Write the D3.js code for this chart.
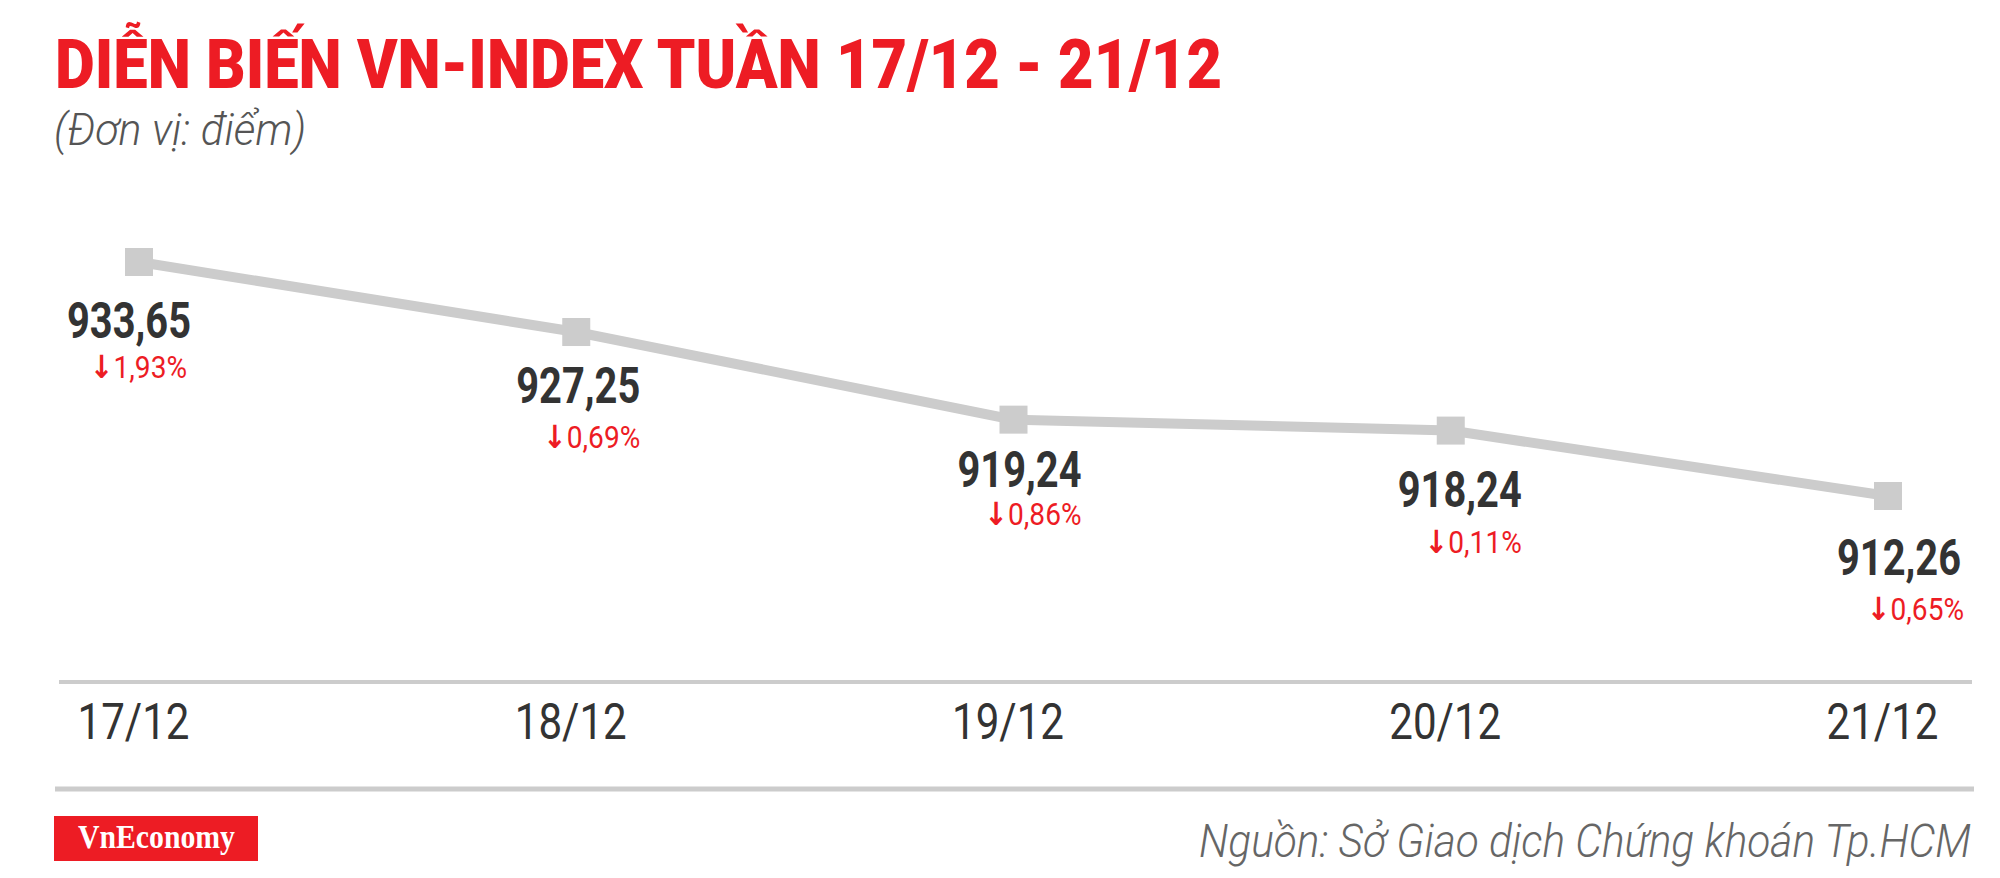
<!DOCTYPE html>
<html>
<head>
<meta charset="utf-8">
<script src="https://cdn.jsdelivr.net/npm/d3@7"></script>
<style>
  html, body { margin: 0; padding: 0; background: #ffffff; }
  svg { display: block; }
</style>
</head>
<body>
<svg id="chart" width="2000" height="878"></svg>
<script>
// ---- data ----
const dates = ["17/12", "18/12", "19/12", "20/12", "21/12"];
const indexValues = [933.65, 927.25, 919.24, 918.24, 912.26];
const pctChanges = [-1.93, -0.69, -0.86, -0.11, -0.65];

const titleText = "DIỄN BIẾN VN-INDEX TUẦN 17/12 - 21/12";
const unitText = "(Đơn vị: điểm)";
const sourceText = "Nguồn: Sở Giao dịch Chứng khoán Tp.HCM";
const brandText = "VnEconomy";

// ---- layout (label nudges relative to each marker) ----
const valueLabelDx = [52, 64, 68, 71, 73];
const valueLabelDy = [76, 71, 67, 76, 79];
const pctLabelDx = [48, 64, 68, 71, 76];
const pctLabelDy = [116, 116, 105, 122, 124];

const RED = "#ed1c24";
const GREY_LINE = "#cccccc";
const DARK = "#333333";

const svg = d3.select("#chart");

const vnLocale = d3.formatLocale({ decimal: ",", thousands: ".", grouping: [3], currency: ["", ""] });
const fmt2 = vnLocale.format(".2f");

// scales
const x = d3.scalePoint().domain(dates).range([139, 1888]);
const y = d3.scaleLinear().domain(d3.extent(indexValues)).range([496, 262]);

const pts = dates.map((d, i) => ({ date: d, v: indexValues[i], p: pctChanges[i], i }));

// ---- title ----
svg.append("text")
  .attr("x", 55).attr("y", 88)
  .attr("font-family", "Roboto, sans-serif")
  .attr("font-weight", 900)
  .attr("font-size", 68)
  .attr("fill", RED)
  .attr("textLength", 1167)
  .attr("lengthAdjust", "spacingAndGlyphs")
  .text(titleText);

svg.append("text")
  .attr("x", 54).attr("y", 145)
  .attr("font-family", "Roboto, sans-serif")
  .attr("font-style", "italic")
  .attr("font-weight", 300)
  .attr("font-size", 45)
  .attr("fill", "#555555")
  .attr("textLength", 252)
  .attr("lengthAdjust", "spacingAndGlyphs")
  .text(unitText);

// ---- line ----
const line = d3.line().x(d => x(d.date)).y(d => y(d.v));
svg.append("path")
  .datum(pts)
  .attr("d", line)
  .attr("fill", "none")
  .attr("stroke", GREY_LINE)
  .attr("stroke-width", 10);

// markers
svg.selectAll("rect.marker")
  .data(pts)
  .join("rect")
  .attr("class", "marker")
  .attr("x", d => x(d.date) - 14)
  .attr("y", d => y(d.v) - 14)
  .attr("width", 28)
  .attr("height", 28)
  .attr("fill", GREY_LINE);

// value labels
svg.selectAll("text.val")
  .data(pts)
  .join("text")
  .attr("class", "val")
  .attr("x", d => x(d.date) + valueLabelDx[d.i] - 124)
  .attr("y", d => y(d.v) + valueLabelDy[d.i])
  .attr("font-family", "Roboto, sans-serif")
  .attr("font-weight", 700)
  .attr("font-size", 50)
  .attr("fill", DARK)
  .attr("textLength", 124)
  .attr("lengthAdjust", "spacingAndGlyphs")
  .text(d => fmt2(d.v));

// percentage labels
const pctText = svg.selectAll("text.pct")
  .data(pts)
  .join("text")
  .attr("class", "pct")
  .attr("x", d => x(d.date) + pctLabelDx[d.i] - 97)
  .attr("y", d => y(d.v) + pctLabelDy[d.i])
  .attr("font-family", "Roboto, sans-serif")
  .attr("font-weight", 400)
  .attr("font-size", 32)
  .attr("fill", RED)
  .attr("textLength", 97)
  .attr("lengthAdjust", "spacingAndGlyphs");
pctText.append("tspan")
  .attr("font-family", "'DejaVu Sans', sans-serif")
  .attr("font-weight", 700)
  .text(d => (d.p < 0 ? "↓" : "↑"));
pctText.append("tspan")
  .text(d => fmt2(Math.abs(d.p)) + "%");

// ---- axis ----
svg.append("line")
  .attr("x1", 59).attr("x2", 1972)
  .attr("y1", 682).attr("y2", 682)
  .attr("stroke", GREY_LINE).attr("stroke-width", 4);

const axisG = svg.append("g")
  .attr("transform", "translate(-6,682)")
  .call(d3.axisBottom(x).tickSize(0).tickPadding(21));
axisG.select(".domain").remove();
axisG.selectAll("text")
  .attr("font-family", "Roboto, sans-serif")
  .attr("font-size", 50)
  .attr("fill", DARK)
  .attr("textLength", 112)
  .attr("lengthAdjust", "spacingAndGlyphs");

svg.append("line")
  .attr("x1", 55).attr("x2", 1974)
  .attr("y1", 789).attr("y2", 789)
  .attr("stroke", GREY_LINE).attr("stroke-width", 5);

// ---- footer ----
svg.append("rect")
  .attr("x", 54).attr("y", 816)
  .attr("width", 204).attr("height", 45)
  .attr("fill", RED);
svg.append("text")
  .attr("x", 78).attr("y", 848)
  .attr("font-family", "'Liberation Serif', 'Times New Roman', serif")
  .attr("font-weight", 700)
  .attr("font-size", 34)
  .attr("fill", "#ffffff")
  .attr("textLength", 157)
  .attr("lengthAdjust", "spacingAndGlyphs")
  .text(brandText);

svg.append("text")
  .attr("x", 1971).attr("y", 857)
  .attr("text-anchor", "end")
  .attr("font-family", "Roboto, sans-serif")
  .attr("font-style", "italic")
  .attr("font-weight", 300)
  .attr("font-size", 46)
  .attr("fill", "#666666")
  .attr("textLength", 772)
  .attr("lengthAdjust", "spacingAndGlyphs")
  .text(sourceText);
</script>
</body>
</html>
